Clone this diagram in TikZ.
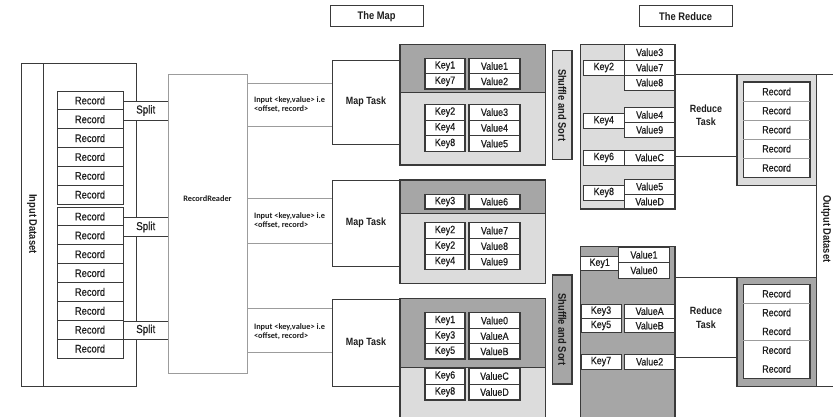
\documentclass[tikz,border=0pt]{standalone}
\usepackage{fontspec}
\setmainfont{Liberation Sans}[FakeStretch=0.85]
\newfontfamily\medfont{Liberation Sans}[FakeStretch=0.85, FakeBold=0.6]
\newfontfamily\calfont{Carlito}
\definecolor{lc}{HTML}{3A3A3A}
\definecolor{dk}{HTML}{A6A6A6}
\definecolor{lt}{HTML}{DCDCDC}
\definecolor{gl}{HTML}{9C9C9C}
\definecolor{tc}{HTML}{1E1E1E}
\newcommand{\myfs}[1]{\fontsize{#1}{#1}\selectfont}
\newcommand{\mybox}[7]{%
  \pgfmathsetmacro\mbw{#5-(#3)}\pgfmathsetmacro\mbh{#6-(#4)}%
  \node[#2, minimum width=\mbw pt, minimum height=\mbh pt] (#1) at ({(#3+#5)/2},{(#4+#6)/2}) {#7};}
\tikzset{
  base/.style={inner sep=0pt, outer sep=0pt, text=tc},
  ln/.style={draw=lc, line width=1pt},
  thk/.style={draw=lc, line width=1.5pt},
  rec/.style={base, ln, fill=white, font=\medfont\myfs{11}},
  cell/.style={base, ln, fill=white, font=\medfont\myfs{10.5}},
  head/.style={base, ln, fill=white, font=\bfseries\myfs{11}},
  task/.style={base, ln, fill=white, font=\bfseries\myfs{10.5}, align=center},
  graybox/.style={base, draw=gl, line width=0.9pt, fill=white},
  darkfill/.style={base, thk, fill=dk},
  lightfill/.style={base, thk, fill=lt},
  vtext/.style={base, rotate=-90, font=\bfseries\myfs{11}},
  small/.style={base, font=\calfont\bfseries\myfs{8.3}, align=left},
  colframe/.style={draw=lc, line width=1.4pt}
}
\begin{document}
\begin{tikzpicture}[x=1pt, y=-1pt]
\useasboundingbox (0,0) rectangle (833,416);
% headers
\mybox{themap}{head}{330}{5.7}{423.3}{26.7}{The Map}
\mybox{thereduce}{head}{639}{5.7}{732.3}{26.7}{The Reduce}
% input dataset
\mybox{indata}{base, ln, fill=white}{21}{63}{136}{386}{}
\mybox{inlabel}{base, ln}{21}{63}{43}{386}{}
\node[vtext] (inlabeltext) at (32,224) {Input Dataset};
\foreach \i in {0,...,5}{%
  \pgfmathsetmacro\ya{91+\i*18.833}\pgfmathsetmacro\yb{\ya+18.833}%
  \mybox{ra\i}{rec}{57}{\ya}{123}{\yb}{Record}}
\foreach \i in {0,...,7}{%
  \pgfmathsetmacro\ya{207+\i*18.875}\pgfmathsetmacro\yb{\ya+18.875}%
  \mybox{rb\i}{rec}{57}{\ya}{123}{\yb}{Record}}
% splits
\mybox{split1}{base, fill=white, font=\medfont\myfs{11.5}}{123.5}{101}{168}{120}{Split}
\mybox{split2}{base, fill=white, font=\medfont\myfs{11.5}}{123.5}{217.5}{168}{236.7}{Split}
\mybox{split3}{base, fill=white, font=\medfont\myfs{11.5}}{123.5}{321}{168}{339}{Split}
\foreach \s in {split1,split2,split3}{%
  \draw[ln] (\s.north west) -- (\s.north east);
  \draw[ln] (\s.south west) -- (\s.south east);}
% record reader
\mybox{rr}{base, draw=gl, line width=0.9pt}{168}{74}{247}{373}{}
\node[base, font=\calfont\bfseries\myfs{8.3}] (rrtext) at (207.5,199) {RecordReader};
% input labels
\mybox{in1}{graybox}{247}{83}{332}{126}{}
\mybox{in2}{graybox}{247}{198}{332}{243}{}
\mybox{in3}{graybox}{247}{308}{332}{352}{}
\node[small] (in1t) at (in1.center) {Input {<}key,value{>} i.e\\{<}offset, record{>}};
\node[small] (in2t) at (in2.center) {Input {<}key,value{>} i.e\\{<}offset, record{>}};
\node[small] (in3t) at ([yshift=-1.5pt]in3.center) {Input {<}key,value{>} i.e\\{<}offset, record{>}};
% map tasks
\mybox{mt1}{task}{332}{60}{400}{144}{Map Task}
\mybox{mt2}{task}{332}{180}{400}{266}{Map Task}
\mybox{mt3}{task}{332}{299}{400}{386}{Map Task}
% map outputs
\mybox{mo1d}{darkfill}{400}{44.5}{545.5}{92.7}{}
\mybox{mo1l}{lightfill}{400}{92.7}{545.5}{165}{}
\mybox{mo2d}{darkfill}{400}{180}{545.5}{213.3}{}
\mybox{mo2l}{lightfill}{400}{213.3}{545.5}{283.3}{}
\mybox{mo3d}{darkfill}{400}{298.7}{545.5}{367.3}{}
\mybox{mo3l}{lightfill}{400}{367.3}{545.5}{430}{}
% map 1 cells
\mybox{k11}{cell}{425}{58.3}{465}{73.7}{Key1}
\mybox{v11}{cell}{469}{58.3}{520}{73.7}{Value1}
\mybox{k12}{cell}{425}{73.7}{465}{89}{Key7}
\mybox{v12}{cell}{469}{73.7}{520}{89}{Value2}
\mybox{k13}{cell}{425}{104.3}{465}{120}{Key2}
\mybox{v13}{cell}{469}{104.3}{520}{120}{Value3}
\mybox{k14}{cell}{425}{120}{465}{135.7}{Key4}
\mybox{v14}{cell}{469}{120}{520}{135.7}{Value4}
\mybox{k15}{cell}{425}{135.7}{465}{151.3}{Key8}
\mybox{v15}{cell}{469}{135.7}{520}{151.3}{Value5}
% map 2 cells
\mybox{k21}{cell}{425}{194.3}{465}{209}{Key3}
\mybox{v21}{cell}{469}{194.3}{520}{209}{Value6}
\mybox{k22}{cell}{425}{222.7}{465}{238.3}{Key2}
\mybox{v22}{cell}{469}{222.7}{520}{238.3}{Value7}
\mybox{k23}{cell}{425}{238.3}{465}{254}{Key2}
\mybox{v23}{cell}{469}{238.3}{520}{254}{Value8}
\mybox{k24}{cell}{425}{254}{465}{269.3}{Key4}
\mybox{v24}{cell}{469}{254}{520}{269.3}{Value9}
% map 3 cells
\mybox{k31}{cell}{425}{312.7}{465}{328.3}{Key1}
\mybox{v31}{cell}{469}{312.7}{520}{328.3}{Value0}
\mybox{k32}{cell}{425}{328.3}{465}{343.7}{Key3}
\mybox{v32}{cell}{469}{328.3}{520}{343.7}{ValueA}
\mybox{k33}{cell}{425}{343.7}{465}{359}{Key5}
\mybox{v33}{cell}{469}{343.7}{520}{359}{ValueB}
\mybox{k34}{cell}{425}{368}{465}{384}{Key6}
\mybox{v34}{cell}{469}{368}{520}{384}{ValueC}
\mybox{k35}{cell}{425}{384}{465}{400}{Key8}
\mybox{v35}{cell}{469}{384}{520}{400}{ValueD}
\foreach \a/\b in {k11/k12,v11/v12,k13/k15,v13/v15,k21/k21,v21/v21,k22/k24,v22/v24,k31/k33,v31/v33,k34/k35,v34/v35}{%
  \draw[colframe] (\a.north west) rectangle (\b.south east);}
% shuffle and sort
\mybox{sh1}{base, ln, line width=1.3pt, fill=lt}{552.5}{50.7}{572}{159.5}{}
\node[vtext] (sh1t) at (sh1.center) {Shuffle and Sort};
\mybox{sh2}{base, ln, line width=1.3pt, fill=dk}{552.5}{275}{572}{384}{}
\node[vtext] (sh2t) at (sh2.center) {Shuffle and Sort};
% output dataset and reduce tasks
\mybox{outds}{base, ln, fill=white}{816.5}{74.5}{850}{386.5}{}
\node[vtext] (outdst) at (826,229) {Output Dataset};
\mybox{rt1}{task}{675}{74.5}{737}{156}{Reduce\\[3pt]Task}
\mybox{rt2}{task}{675}{277.7}{737}{357.5}{Reduce\\[3pt]Task}
% reduce group 1
\mybox{rg1}{lightfill}{580.7}{44.5}{675}{209}{}
\mybox{r1v3}{cell}{624.3}{44.5}{675}{60}{Value3}
\mybox{r1v7}{cell}{624.3}{60}{675}{75}{Value7}
\mybox{r1v8}{cell}{624.3}{75}{675}{90}{Value8}
\mybox{r1k2}{cell}{583.3}{60}{624.3}{75}{Key2}
\mybox{r1v4}{cell}{624.3}{107.3}{675}{122.3}{Value4}
\mybox{r1v9}{cell}{624.3}{122.3}{675}{137.3}{Value9}
\mybox{r1k4}{cell}{583.3}{113.3}{624.3}{128.3}{Key4}
\mybox{r1k6}{cell}{583.3}{150}{624.3}{165}{Key6}
\mybox{r1vc}{cell}{624.3}{150}{675}{165}{ValueC}
\mybox{r1v5}{cell}{624.3}{179}{675}{194}{Value5}
\mybox{r1vd}{cell}{624.3}{194}{675}{209}{ValueD}
\mybox{r1k8}{cell}{583.3}{185}{624.3}{200}{Key8}
\draw[thk] (rg1.north west) rectangle (rg1.south east);
% reduce group 2
\mybox{rg2}{darkfill}{580.7}{246.7}{675}{430}{}
\mybox{r2v1}{cell}{618.7}{247.3}{669.3}{262.3}{Value1}
\mybox{r2v0}{cell}{618.7}{262.3}{669.3}{278.3}{Value0}
\mybox{r2k1}{cell}{580.7}{256.7}{618.7}{270}{Key1}
\mybox{r2k3}{cell}{581}{304}{621}{318.3}{Key3}
\mybox{r2k5}{cell}{581}{318.3}{621}{332.7}{Key5}
\mybox{r2va}{cell}{624.3}{304}{675}{318.3}{ValueA}
\mybox{r2vb}{cell}{624.3}{318.3}{675}{332.7}{ValueB}
\mybox{r2k7}{cell}{581}{354.3}{621}{369}{Key7}
\mybox{r2v2}{cell}{624.3}{354.3}{675}{369}{Value2}
\draw[thk] (rg2.north west) rectangle (rg2.south east);
% record containers
\mybox{rc1}{base, ln, line width=1.2pt, fill=lt}{737}{74.5}{816.5}{185.5}{}
\mybox{rc1in}{base, ln, line width=1.2pt, fill=white}{743.3}{82}{810}{177.3}{}
\foreach \i in {0,...,4}{%
  \pgfmathsetmacro\ya{82+\i*19.06}\pgfmathsetmacro\yb{\ya+19.06}%
  \mybox{rca\i}{base, font=\medfont\myfs{10.5}}{743.3}{\ya}{810}{\yb}{Record}}
\foreach \i in {0,1,2,3}{\draw[draw=gl, line width=0.8pt] (rca\i.south west) -- (rca\i.south east);}
\mybox{rc2}{base, ln, line width=1.2pt, fill=dk}{737}{277.5}{816.5}{386.5}{}
\mybox{rc2in}{base, ln, line width=1.2pt, fill=white}{743.3}{284.3}{810}{378.3}{}
\foreach \i in {0,...,4}{%
  \pgfmathsetmacro\ya{284.3+\i*18.8}\pgfmathsetmacro\yb{\ya+18.8}%
  \mybox{rcb\i}{base, font=\medfont\myfs{10.5}}{743.3}{\ya}{810}{\yb}{Record}}
\foreach \i in {0,2}{\draw[draw=gl, line width=0.8pt] (rcb\i.south west) -- (rcb\i.south east);}
\end{tikzpicture}
\end{document}
